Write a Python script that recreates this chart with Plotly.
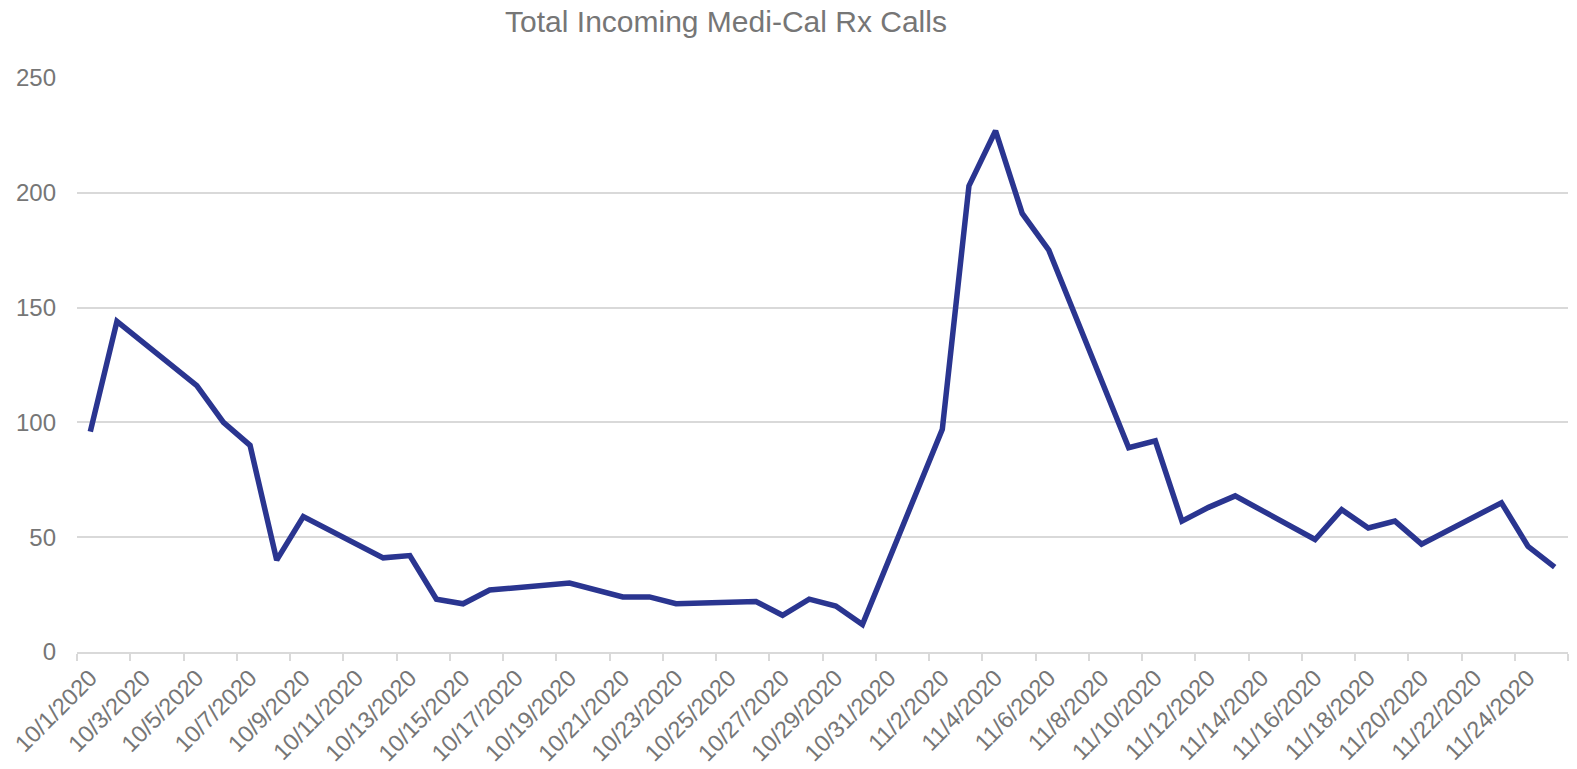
import pandas as pd
import plotly.graph_objects as go

# ---- data ----
dates = [
    "2020-10-01", "2020-10-02", "2020-10-05", "2020-10-06", "2020-10-07",
    "2020-10-08", "2020-10-09", "2020-10-12", "2020-10-13", "2020-10-14",
    "2020-10-15", "2020-10-16", "2020-10-19", "2020-10-20", "2020-10-21",
    "2020-10-22", "2020-10-23", "2020-10-26", "2020-10-27", "2020-10-28",
    "2020-10-29", "2020-10-30", "2020-11-02", "2020-11-03", "2020-11-04",
    "2020-11-05", "2020-11-06", "2020-11-09", "2020-11-10", "2020-11-11",
    "2020-11-12", "2020-11-13", "2020-11-16", "2020-11-17", "2020-11-18",
    "2020-11-19", "2020-11-20", "2020-11-23", "2020-11-24", "2020-11-25",
]
calls = [
    96, 144, 116, 100, 90,
    40, 59, 41, 42, 23,
    21, 27, 30, 27, 24,
    24, 21, 22, 16, 23,
    20, 12, 97, 203, 227,
    191, 175, 89, 92, 57,
    63, 68, 49, 62, 54,
    57, 47, 65, 46, 37,
]
tick_dates = pd.date_range("2020-10-01", "2020-11-24", freq="2D")
tick_labels = [f"{d.month}/{d.day}/{d.year}" for d in tick_dates]
y_ticks = [0, 50, 100, 150, 200, 250]

title_text = "Total Incoming Medi-Cal Rx Calls"

# ---- positions: Excel date axis centres each point within its day ----
half_day = pd.Timedelta(hours=12)
x_pts = pd.to_datetime(dates) + half_day
label_pos = tick_dates + half_day
minor_pos = pd.date_range("2020-10-01", "2020-11-26", freq="2D")

FONT = "Liberation Sans, Arial, sans-serif"
GRAY_TXT = "#767676"
GRID = "#d9d9d9"

fig = go.Figure(
    go.Scatter(
        x=x_pts,
        y=calls,
        mode="lines",
        line=dict(color="#2a3590", width=5.5),
        hoverinfo="x+y",
    )
)

fig.update_layout(
    width=1577,
    height=769,
    paper_bgcolor="white",
    plot_bgcolor="white",
    margin=dict(l=77, r=9, t=78, b=117, autoexpand=False),
    showlegend=False,
    font=dict(family=FONT, color=GRAY_TXT),
    title=dict(
        text=title_text,
        x=726 / 1577,
        xanchor="center",
        xref="container",
        y=1 - 21 / 769,
        yanchor="middle",
        yref="container",
        font=dict(size=30, color=GRAY_TXT, family=FONT),
    ),
)

fig.update_xaxes(
    type="date",
    range=["2020-10-01", "2020-11-26"],
    automargin=False,
    tickmode="array",
    tickvals=label_pos,
    ticktext=tick_labels,
    tickangle=-45,
    ticks="",
    ticklabelstandoff=1,
    tickfont=dict(size=23.5, color=GRAY_TXT, family=FONT),
    showgrid=False,
    showline=True,
    linecolor=GRID,
    linewidth=1.5,
    zeroline=False,
    minor=dict(
        tickmode="array",
        tickvals=minor_pos,
        ticks="outside",
        ticklen=7,
        tickwidth=1.5,
        tickcolor=GRID,
        showgrid=False,
    ),
    fixedrange=True,
)

fig.update_yaxes(
    range=[0, 250],
    automargin=False,
    tickmode="array",
    tickvals=y_ticks,
    ticks="",
    ticklabelstandoff=20,
    tickfont=dict(size=24, color=GRAY_TXT, family=FONT),
    showgrid=True,
    gridcolor=GRID,
    gridwidth=1.5,
    zeroline=False,
    showline=False,
    fixedrange=True,
)

fig.write_html(
    "out.html",
    config={"displayModeBar": False},
    post_script="document.body.style.margin='0';document.body.style.overflow='hidden';",
)
